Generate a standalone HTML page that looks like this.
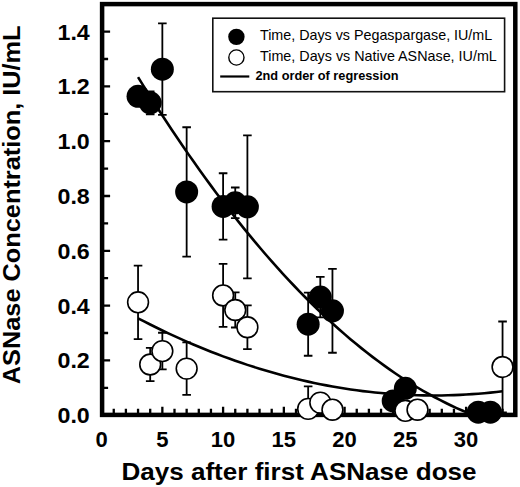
<!DOCTYPE html>
<html><head><meta charset="utf-8"><style>
html,body{margin:0;padding:0;background:#fff;}
svg{display:block;}
text{font-family:"Liberation Sans",sans-serif;fill:#000;}
.tl{font-weight:bold;font-size:22px;}
.at{font-weight:bold;font-size:24px;}
.lg{font-size:14.2px;}
.lb{font-weight:bold;font-size:12.5px;}
</style></head><body>
<svg width="520" height="487" viewBox="0 0 520 487">
<path d="M101.60,415.20V406.70M113.75,415.20V408.70M125.90,415.20V408.70M138.05,415.20V408.70M150.20,415.20V408.70M162.35,415.20V406.70M174.50,415.20V408.70M186.65,415.20V408.70M198.80,415.20V408.70M210.95,415.20V408.70M223.10,415.20V406.70M235.25,415.20V408.70M247.40,415.20V408.70M259.55,415.20V408.70M271.70,415.20V408.70M283.85,415.20V406.70M296.00,415.20V408.70M308.15,415.20V408.70M320.30,415.20V408.70M332.45,415.20V408.70M344.60,415.20V406.70M356.75,415.20V408.70M368.90,415.20V408.70M381.05,415.20V408.70M393.20,415.20V408.70M405.35,415.20V406.70M417.50,415.20V408.70M429.65,415.20V408.70M441.80,415.20V408.70M453.95,415.20V408.70M466.10,415.20V406.70M478.25,415.20V408.70M490.40,415.20V408.70M502.55,415.20V408.70M514.70,415.20V408.70M101.60,415.20H110.10M101.60,387.80H108.10M101.60,360.40H110.10M101.60,333.00H108.10M101.60,305.60H110.10M101.60,278.20H108.10M101.60,250.80H110.10M101.60,223.40H108.10M101.60,196.00H110.10M101.60,168.60H108.10M101.60,141.20H110.10M101.60,113.80H108.10M101.60,86.40H110.10M101.60,59.00H108.10M101.60,31.60H110.10" stroke="#000" stroke-width="2.3" fill="none"/>
<rect x="102.1" y="4.1" width="413.2" height="410.8" fill="none" stroke="#000" stroke-width="4.5"/>
<path d="M150.20,91.33V114.35M145.90,91.33H154.50M145.90,114.35H154.50M162.35,23.38V114.90M158.05,23.38H166.65M158.05,114.90H166.65M186.65,127.23V256.55M182.35,127.23H190.95M182.35,256.55H190.95M223.10,173.26V239.57M218.80,173.26H227.40M218.80,239.57H227.40M235.25,187.51V218.19M230.95,187.51H239.55M230.95,218.19H239.55M247.40,135.28V278.31M243.10,135.28H251.70M243.10,278.31H251.70M308.15,292.72V355.74M303.85,292.72H312.45M303.85,355.74H312.45M320.30,276.83V317.38M316.00,276.83H324.60M316.00,317.38H324.60M332.45,268.88V352.73M328.15,268.88H336.75M328.15,352.73H336.75M138.05,265.60V339.03M133.75,265.60H142.35M133.75,339.03H142.35M150.20,347.80V381.22M145.90,347.80H154.50M145.90,381.22H154.50M162.35,332.73V369.44M158.05,332.73H166.65M158.05,369.44H166.65M186.65,342.32V394.92M182.35,342.32H190.95M182.35,394.92H190.95M223.10,263.95V326.97M218.80,263.95H227.40M218.80,326.97H227.40M235.25,292.45V327.52M230.95,292.45H239.55M230.95,327.52H239.55M247.40,305.33V349.17M243.10,305.33H251.70M243.10,349.17H251.70M308.15,386.43V415.20M303.85,386.43H312.45M502.55,321.49V412.46M498.25,321.49H506.85M498.25,412.46H506.85" stroke="#000" stroke-width="1.8" fill="none"/>
<path d="M138.05,77.08 L143.64,86.10 L149.23,95.01 L154.82,103.80 L160.41,112.47 L166.00,121.03 L171.58,129.48 L177.17,137.81 L182.76,146.03 L188.35,154.13 L193.94,162.12 L199.53,169.99 L205.12,177.75 L210.71,185.39 L216.30,192.92 L221.88,200.33 L227.47,207.63 L233.06,214.81 L238.65,221.88 L244.24,228.84 L249.83,235.67 L255.42,242.40 L261.01,249.01 L266.60,255.50 L272.19,261.89 L277.77,268.15 L283.36,274.30 L288.95,280.34 L294.54,286.26 L300.13,292.07 L305.72,297.76 L311.31,303.34 L316.90,308.80 L322.49,314.15 L328.08,319.38 L333.67,324.50 L339.25,329.50 L344.84,334.39 L350.43,339.16 L356.02,343.82 L361.61,348.37 L367.20,352.80 L372.79,357.11 L378.38,361.31 L383.97,365.40 L389.55,369.37 L395.14,373.22 L400.73,376.96 L406.32,380.59 L411.91,384.10 L417.50,387.50 L423.09,390.78 L428.68,393.95 L434.27,397.00 L439.86,399.94 L445.45,402.76 L451.03,405.47 L456.62,408.06 L462.21,410.54 L467.80,412.91 L473.39,415.16" stroke="#000" stroke-width="2.6" fill="none"/>
<path d="M138.05,318.28 L144.12,321.43 L150.20,324.50 L156.28,327.52 L162.35,330.47 L168.43,333.35 L174.50,336.17 L180.57,338.92 L186.65,341.60 L192.72,344.23 L198.80,346.78 L204.88,349.27 L210.95,351.70 L217.02,354.06 L223.10,356.35 L229.18,358.58 L235.25,360.74 L241.32,362.84 L247.40,364.88 L253.47,366.84 L259.55,368.75 L265.62,370.58 L271.70,372.35 L277.77,374.06 L283.85,375.70 L289.93,377.28 L296.00,378.79 L302.07,380.23 L308.15,381.61 L314.23,382.93 L320.30,384.18 L326.38,385.36 L332.45,386.48 L338.52,387.53 L344.60,388.52 L350.68,389.44 L356.75,390.30 L362.83,391.09 L368.90,391.81 L374.98,392.48 L381.05,393.07 L387.12,393.60 L393.20,394.07 L399.27,394.47 L405.35,394.80 L411.42,395.07 L417.50,395.27 L423.58,395.41 L429.65,395.48 L435.73,395.49 L441.80,395.43 L447.88,395.31 L453.95,395.12 L460.02,394.87 L466.10,394.55 L472.17,394.16 L478.25,393.71 L484.33,393.20 L490.40,392.62 L496.48,391.97 L502.55,391.26" stroke="#000" stroke-width="2.6" fill="none"/>
<circle cx="138.05" cy="96.26" r="11.5" fill="#000"/>
<circle cx="150.20" cy="102.84" r="11.5" fill="#000"/>
<circle cx="162.35" cy="69.14" r="11.5" fill="#000"/>
<circle cx="186.65" cy="191.89" r="11.5" fill="#000"/>
<circle cx="223.10" cy="206.41" r="11.5" fill="#000"/>
<circle cx="235.25" cy="202.85" r="11.5" fill="#000"/>
<circle cx="247.40" cy="206.80" r="11.5" fill="#000"/>
<circle cx="308.15" cy="324.23" r="11.5" fill="#000"/>
<circle cx="320.30" cy="297.11" r="11.5" fill="#000"/>
<circle cx="332.45" cy="310.81" r="11.5" fill="#000"/>
<circle cx="393.20" cy="400.95" r="11.5" fill="#000"/>
<circle cx="405.35" cy="388.35" r="11.5" fill="#000"/>
<circle cx="478.25" cy="412.19" r="11.5" fill="#000"/>
<circle cx="490.40" cy="412.19" r="11.5" fill="#000"/>
<circle cx="138.05" cy="302.31" r="10.4" fill="#fff" stroke="#000" stroke-width="1.6"/>
<circle cx="150.20" cy="364.51" r="10.4" fill="#fff" stroke="#000" stroke-width="1.6"/>
<circle cx="162.35" cy="351.08" r="10.4" fill="#fff" stroke="#000" stroke-width="1.6"/>
<circle cx="186.65" cy="368.62" r="10.4" fill="#fff" stroke="#000" stroke-width="1.6"/>
<circle cx="223.10" cy="295.46" r="10.4" fill="#fff" stroke="#000" stroke-width="1.6"/>
<circle cx="235.25" cy="309.98" r="10.4" fill="#fff" stroke="#000" stroke-width="1.6"/>
<circle cx="247.40" cy="327.25" r="10.4" fill="#fff" stroke="#000" stroke-width="1.6"/>
<circle cx="308.15" cy="408.90" r="10.4" fill="#fff" stroke="#000" stroke-width="1.6"/>
<circle cx="320.30" cy="402.60" r="10.4" fill="#fff" stroke="#000" stroke-width="1.6"/>
<circle cx="332.45" cy="409.72" r="10.4" fill="#fff" stroke="#000" stroke-width="1.6"/>
<circle cx="405.35" cy="410.82" r="10.4" fill="#fff" stroke="#000" stroke-width="1.6"/>
<circle cx="417.50" cy="409.72" r="10.4" fill="#fff" stroke="#000" stroke-width="1.6"/>
<circle cx="502.55" cy="366.98" r="10.4" fill="#fff" stroke="#000" stroke-width="1.6"/>
<text x="89.8" y="423.20" text-anchor="end" class="tl" textLength="32.3" lengthAdjust="spacingAndGlyphs">0.0</text>
<text x="89.8" y="368.40" text-anchor="end" class="tl" textLength="32.3" lengthAdjust="spacingAndGlyphs">0.2</text>
<text x="89.8" y="313.60" text-anchor="end" class="tl" textLength="32.3" lengthAdjust="spacingAndGlyphs">0.4</text>
<text x="89.8" y="258.80" text-anchor="end" class="tl" textLength="32.3" lengthAdjust="spacingAndGlyphs">0.6</text>
<text x="89.8" y="204.00" text-anchor="end" class="tl" textLength="32.3" lengthAdjust="spacingAndGlyphs">0.8</text>
<text x="89.8" y="149.20" text-anchor="end" class="tl" textLength="32.3" lengthAdjust="spacingAndGlyphs">1.0</text>
<text x="89.8" y="94.40" text-anchor="end" class="tl" textLength="32.3" lengthAdjust="spacingAndGlyphs">1.2</text>
<text x="89.8" y="39.60" text-anchor="end" class="tl" textLength="32.3" lengthAdjust="spacingAndGlyphs">1.4</text>
<text x="101.60" y="447.2" text-anchor="middle" class="tl">0</text>
<text x="162.35" y="447.2" text-anchor="middle" class="tl">5</text>
<text x="223.10" y="447.2" text-anchor="middle" class="tl">10</text>
<text x="283.85" y="447.2" text-anchor="middle" class="tl">15</text>
<text x="344.60" y="447.2" text-anchor="middle" class="tl">20</text>
<text x="405.35" y="447.2" text-anchor="middle" class="tl">25</text>
<text x="466.10" y="447.2" text-anchor="middle" class="tl">30</text>
<text x="121.5" y="479.8" class="at" textLength="355" lengthAdjust="spacingAndGlyphs">Days after first ASNase dose</text>
<text transform="translate(19.8,384.2) rotate(-90)" x="0" y="0" class="at" textLength="358.8" lengthAdjust="spacingAndGlyphs">ASNase Concentration, IU/mL</text>
<rect x="212.8" y="18.2" width="291.8" height="73.5" fill="#fff" stroke="#111" stroke-width="1.6"/>
<circle cx="236.4" cy="36.85" r="8.2" fill="#000"/>
<circle cx="236.4" cy="57.5" r="7.6" fill="#fff" stroke="#000" stroke-width="1.4"/>
<path d="M220.2,76.5H249.3" stroke="#000" stroke-width="2.2"/>
<text x="260" y="40.2" class="lg" textLength="232.2" lengthAdjust="spacingAndGlyphs">Time, Days vs Pegaspargase, IU/mL</text>
<text x="260" y="60.5" class="lg" textLength="236.8" lengthAdjust="spacingAndGlyphs">Time, Days vs Native ASNase, IU/mL</text>
<text x="255.5" y="79.5" class="lb" textLength="143" lengthAdjust="spacingAndGlyphs">2nd order of regression</text>
</svg></body></html>
